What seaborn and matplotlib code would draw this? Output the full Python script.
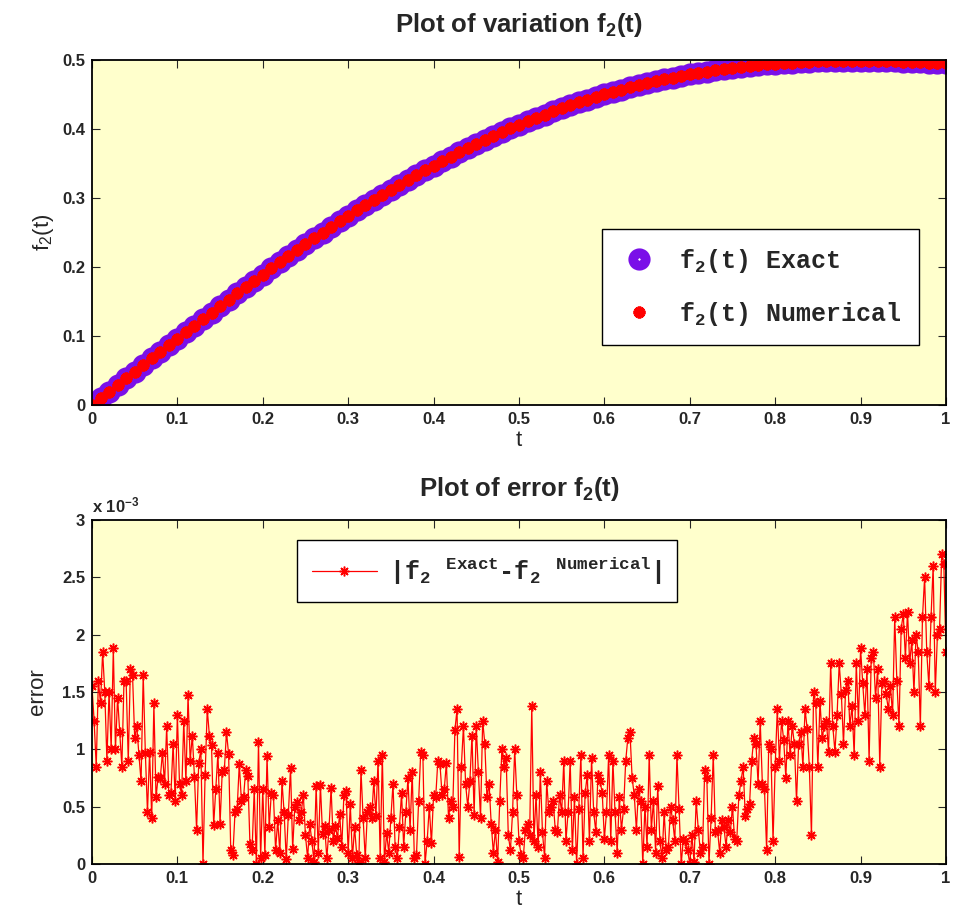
import matplotlib
matplotlib.use('Agg')

import numpy as np
import seaborn as sns
import matplotlib.pyplot as plt
from matplotlib.ticker import FuncFormatter, MultipleLocator

# f2(t), read at t = 0, 0.01, ..., 1
f2_exact = [
    0.0000, 0.0097, 0.0194, 0.0290, 0.0387, 0.0483, 0.0579, 0.0675, 0.0770, 0.0865,
    0.0960, 0.1055, 0.1150, 0.1244, 0.1338, 0.1431, 0.1524, 0.1616, 0.1708, 0.1799,
    0.1890, 0.1980, 0.2069, 0.2157, 0.2244, 0.2330, 0.2414, 0.2497, 0.2579, 0.2660,
    0.2740, 0.2819, 0.2897, 0.2973, 0.3048, 0.3121, 0.3193, 0.3264, 0.3334, 0.3402,
    0.3470, 0.3536, 0.3601, 0.3664, 0.3726, 0.3785, 0.3843, 0.3900, 0.3955, 0.4009,
    0.4060, 0.4111, 0.4160, 0.4208, 0.4254, 0.4299, 0.4342, 0.4384, 0.4424, 0.4463,
    0.4500, 0.4536, 0.4571, 0.4604, 0.4635, 0.4664, 0.4692, 0.4719, 0.4744, 0.4768,
    0.4790, 0.4811, 0.4830, 0.4848, 0.4865, 0.4881, 0.4896, 0.4910, 0.4923, 0.4935,
    0.4945, 0.4954, 0.4962, 0.4969, 0.4975, 0.4980, 0.4984, 0.4987, 0.4989, 0.4990,
    0.4990, 0.4989, 0.4987, 0.4985, 0.4982, 0.4978, 0.4974, 0.4969, 0.4963, 0.4957,
    0.4950,
]
t_f2 = np.linspace(0, 1, len(f2_exact))

# |exact - numerical|, in units of 1e-3
err_e3 = [
    1.55, 1.25, 0.85, 1.60, 1.40, 1.85, 1.50, 0.90, 1.50, 1.00, 1.88, 1.00, 1.45, 1.15, 0.85, 1.60, 1.60, 0.90, 1.70, 1.65,
    1.10, 1.20, 0.95, 0.72, 1.65, 0.97, 0.45, 0.98, 0.40, 1.40, 0.58, 0.76, 0.75, 0.97, 0.70, 1.20, 0.60, 0.62, 1.05, 0.55,
    1.30, 0.70, 0.60, 1.25, 0.72, 1.47, 0.90, 1.12, 0.76, 0.30, 0.88, 1.00, 0.00, 0.78, 1.35, 1.12, 1.04, 0.34, 0.65, 0.97,
    0.35, 0.80, 0.82, 1.15, 0.96, 0.12, 0.08, 0.45, 0.48, 0.87, 0.55, 0.58, 0.82, 0.77, 0.17, 0.12, 0.65, 0.00, 1.06, 0.05,
    0.65, 0.08, 0.94, 0.32, 0.62, 0.60, 0.12, 0.38, 0.10, 0.72, 0.45, 0.04, 0.43, 0.84, 0.13, 0.50, 0.54, 0.38, 0.45, 0.60,
    0.25, 0.05, 0.35, 0.20, 0.02, 0.68, 0.10, 0.69, 0.26, 0.33, 0.05, 0.30, 0.66, 0.20, 0.33, 0.23, 0.44, 0.15, 0.60, 0.64,
    0.10, 0.52, 0.05, 0.32, 0.08, 0.02, 0.82, 0.40, 0.05, 0.45, 0.50, 0.40, 0.72, 0.42, 0.90, 0.05, 0.95, 0.02, 0.27, 0.10,
    0.40, 0.70, 0.15, 0.05, 0.32, 0.62, 0.15, 0.45, 0.75, 0.30, 0.80, 0.05, 0.08, 0.55, 0.98, 0.95, 0.00, 0.20, 0.50, 0.18,
    0.60, 0.58, 0.90, 0.87, 0.60, 0.65, 0.88, 0.40, 0.55, 0.50, 1.17, 1.35, 0.06, 0.85, 1.20, 0.70, 0.50, 0.72, 1.12, 0.43,
    1.20, 0.80, 0.40, 1.25, 1.05, 0.58, 0.70, 0.35, 0.10, 0.30, 0.02, 0.55, 1.00, 0.85, 0.92, 0.25, 0.12, 0.45, 1.00, 0.60,
    0.20, 0.08, 0.05, 0.30, 0.35, 0.25, 1.38, 0.20, 0.60, 0.15, 0.80, 0.28, 0.05, 0.72, 0.45, 0.50, 0.55, 0.30, 0.28, 0.60,
    0.45, 0.90, 0.20, 0.45, 0.90, 0.12, 0.58, 0.00, 0.48, 0.95, 0.05, 0.62, 0.78, 0.20, 0.92, 0.45, 0.28, 0.78, 0.72, 0.62,
    0.22, 0.45, 0.95, 0.20, 0.90, 0.45, 0.10, 0.58, 0.30, 0.48, 0.90, 1.10, 1.15, 0.75, 0.60, 0.30, 0.65, 0.55, 0.00, 0.50,
    0.15, 0.95, 0.30, 0.55, 0.10, 0.68, 0.20, 0.05, 0.45, 0.12, 0.15, 0.50, 0.38, 0.20, 0.95, 0.48, 0.00, 0.22, 0.20, 0.12,
    0.00, 0.25, 0.02, 0.55, 0.30, 0.10, 0.15, 0.82, 0.75, 0.00, 0.40, 0.95, 0.28, 0.30, 0.10, 0.38, 0.32, 0.15, 0.38, 0.28,
    0.50, 0.22, 0.20, 0.60, 0.72, 0.85, 0.42, 0.48, 0.52, 0.90, 1.10, 1.05, 0.70, 1.25, 0.70, 0.65, 0.12, 1.05, 1.00, 0.20,
    0.85, 1.35, 0.90, 1.25, 1.08, 0.75, 1.25, 0.95, 1.20, 1.05, 0.55, 1.05, 1.15, 0.85, 1.35, 1.18, 0.85, 0.25, 1.50, 1.40,
    0.85, 1.42, 1.10, 1.20, 1.25, 0.98, 1.75, 1.20, 0.98, 1.30, 1.75, 1.48, 1.05, 1.52, 1.60, 1.20, 1.38, 0.95, 1.75, 1.25,
    1.88, 1.58, 1.30, 1.70, 0.90, 1.80, 1.85, 1.45, 1.70, 0.85, 1.58, 1.60, 1.48, 1.35, 1.55, 1.30, 2.15, 1.60, 1.20, 2.05,
    2.18, 1.80, 2.20, 1.75, 1.95, 1.50, 2.00, 1.85, 1.20, 2.15, 2.50, 1.85, 1.55, 2.15, 2.60, 1.50, 2.00, 2.05, 2.70, 2.62,
    1.85,
]
t_err = np.linspace(0, 1, len(err_e3))

x_ticks = [0, 0.1, 0.2, 0.3, 0.4, 0.5, 0.6, 0.7, 0.8, 0.9, 1]

purple = '#7A10E8'
bg = '#FFFFCC'
sans = ['Liberation Sans', 'DejaVu Sans']
mono = ['Liberation Mono', 'DejaVu Sans Mono']

sns.set_style('ticks')
plt.rcParams['font.family'] = sans
plt.rcParams['mathtext.default'] = 'regular'

fig = plt.figure(figsize=(9.56, 9.16), dpi=100)
ax1 = fig.add_axes([0.0962, 0.5579, 0.8933, 0.3766])
ax2 = fig.add_axes([0.0962, 0.0568, 0.8933, 0.3755])

star = (8, 2, 0)
fmt = FuncFormatter(lambda v, p: f'{v:g}')

# top: exact vs numerical
sns.lineplot(x=t_f2, y=f2_exact, ax=ax1, linestyle='none', marker='o', markersize=9,
             markerfacecolor='none', markeredgecolor=purple, markeredgewidth=7,
             errorbar=None, label='f$_2$(t) Exact')
sns.lineplot(x=t_f2, y=f2_exact, ax=ax1, linestyle='none', marker=star, markersize=8.5,
             markeredgecolor='red', markeredgewidth=2.6, color='red',
             errorbar=None, label='f$_2$(t) Numerical')

# bottom: error
sns.lineplot(x=t_err, y=err_e3, ax=ax2, color='red', linewidth=0.9, marker=star,
             markersize=7, markeredgecolor='red', markeredgewidth=1.1,
             errorbar=None, label='|f$_2$ $^{Exact}$-f$_2$ $^{Numerical}$|')

for ax in (ax1, ax2):
    ax.set_facecolor(bg)
    ax.set_xlim(0, 1)
    ax.set_xticks(x_ticks)
    ax.xaxis.set_major_formatter(fmt)
    ax.yaxis.set_major_formatter(fmt)
    ax.tick_params(direction='in', top=True, right=True, length=6, width=0.8,
                   labelsize=12, pad=5)
    for lab in ax.get_xticklabels() + ax.get_yticklabels():
        lab.set_fontweight('bold')
    for s in ax.spines.values():
        s.set_visible(True)
        s.set_linewidth(1.3)
        s.set_color('black')
    ax.set_xlabel('t', fontsize=16, labelpad=2)

ax1.set_ylim(0, 0.5)
ax1.yaxis.set_major_locator(MultipleLocator(0.1))
ax1.set_ylabel('f$_2$(t)', fontsize=16, labelpad=4)
ax1.set_title('Plot of variation f$_2$(t)', fontsize=18.5, fontweight='bold', pad=20)

ax2.set_ylim(0, 3)
ax2.yaxis.set_major_locator(MultipleLocator(0.5))
ax2.set_ylabel('error', fontsize=16, labelpad=10)
ax2.set_title('Plot of error f$_2$(t)', fontsize=18.5, fontweight='bold', pad=17)
ax2.text(0.0, 1.012, 'x 10$^{-3}$', transform=ax2.transAxes, fontsize=12,
         fontweight='bold', ha='left', va='bottom')

leg1 = ax1.legend(loc='upper left', bbox_to_anchor=(0.597, 0.51), frameon=True,
                  fancybox=False, edgecolor='black', framealpha=1, borderpad=0.7,
                  borderaxespad=0, labelspacing=1.0, handletextpad=0.8, handlelength=1.6,
                  prop={'family': mono, 'weight': 'bold', 'size': 18})
leg1.get_frame().set_linewidth(1.0)

leg2 = ax2.legend(loc='upper left', bbox_to_anchor=(0.24, 0.942), frameon=True,
                  fancybox=False, edgecolor='black', framealpha=1, borderpad=0.6,
                  borderaxespad=0, handletextpad=0.5, handlelength=2.6,
                  prop={'family': mono, 'weight': 'bold', 'size': 18})
leg2.get_frame().set_linewidth(1.0)

fig.savefig('out.png', dpi=100)
plt.close(fig)
